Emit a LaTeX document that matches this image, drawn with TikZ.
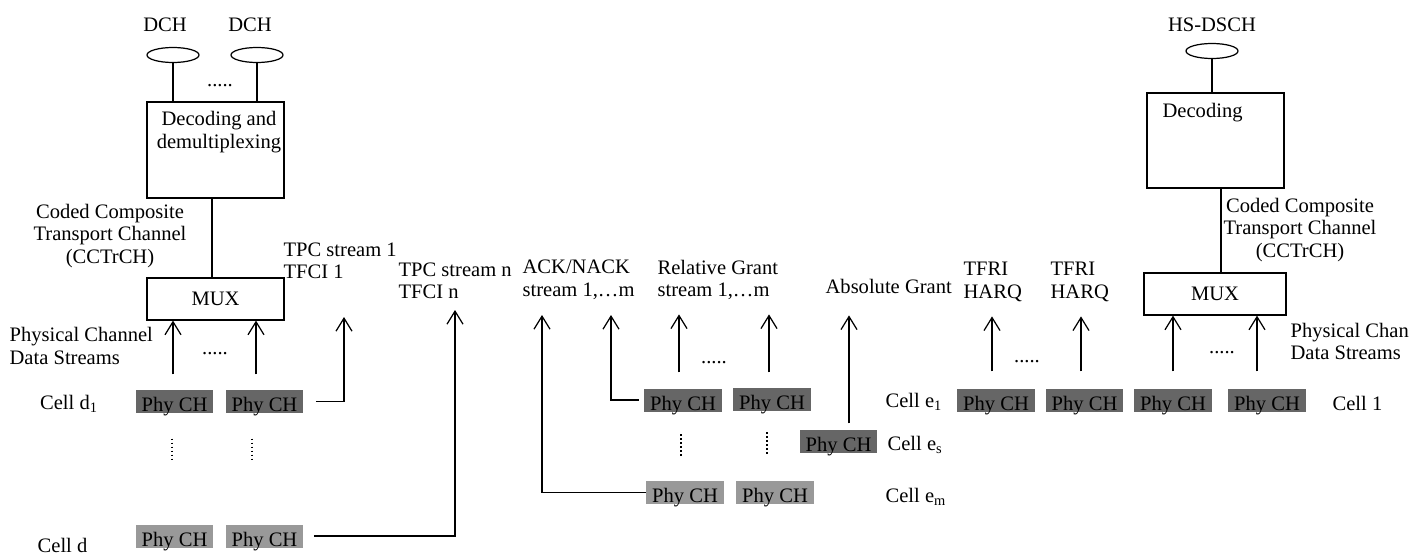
\documentclass[tikz,border=0pt]{standalone}
\usepackage{fontspec}
\setmainfont{Liberation Serif}
\usetikzlibrary{arrows.meta, positioning, shapes.geometric, calc}

\begin{document}
\begin{tikzpicture}[
    font=\fontsize{11.7}{12.8}\selectfont,
    line width=0.7pt,
    lbl/.style={inner sep=0pt, align=left},
    lblc/.style={inner sep=0pt, align=center},
    trch/.style={draw, ellipse, minimum width=1.04cm, minimum height=0.30cm, inner sep=0pt},
    blk/.style={draw, inner sep=0pt},
    phych/.style={fill=black!60, minimum width=1.55cm, minimum height=0.46cm, inner sep=0pt,
        text height=0.40cm, text depth=0pt},
    phychl/.style={phych, fill=black!40},
    arrow/.style={-{Straight Barb[length=0.26cm, width=0.32cm]}},
    vdots/.style={line width=0.045cm, dash pattern=on 0.03cm off 0.05cm}
]
\useasboundingbox (0,0) rectangle (28.2,-11.08);

% DCH branch (left)
\node[trch] (dch1) at (3.46,-1.10) {};
\node[trch] (dch2) at (5.14,-1.10) {};
\node[lblc, anchor=base] (dch1-lbl) at (3.30,-0.62) {DCH};
\node[lblc, anchor=base] (dch2-lbl) at (5.00,-0.62) {DCH};
\node[lblc, anchor=base] (dch-dots) at (4.40,-1.72) {.....};
\node[blk, minimum width=2.74cm, minimum height=1.92cm] (dec) at (4.31,-3.00) {};
\node[lblc] (dec-txt) at (4.38,-2.64) {Decoding and\\demultiplexing};
\node[blk, minimum width=2.74cm, minimum height=0.84cm] (mux) at (4.31,-5.98) {MUX};
\node[lblc] (cctrch) at (2.20,-4.72) {Coded Composite\\Transport Channel\\(CCTrCH)};
\node[lbl, anchor=west] (pcds) at (0.18,-6.92) {Physical Channel\\Data Streams};

\draw (dch1.south) -- (dch1.south |- dec.north);
\draw (dch2.south) -- (dch2.south |- dec.north);
\draw ([xshift=-0.07cm]dec.south) -- ([xshift=-0.07cm]dec.south |- mux.north);

% stream labels
\node[lbl, anchor=west] (tpc1) at (5.66,-5.22) {TPC stream 1\\TFCI 1};
\node[lbl, anchor=west] (tpcn) at (7.96,-5.62) {TPC stream n\\TFCI n};
\node[lbl, anchor=west] (ack) at (10.44,-5.60) {ACK/NACK\\stream 1,…m};
\node[lbl, anchor=west] (rg) at (13.14,-5.60) {Relative Grant\\stream 1,…m};
\node[lbl, anchor=west] (ag) at (16.50,-5.72) {Absolute Grant};
\node[lbl, anchor=west] (tfri1) at (19.26,-5.64) {TFRI\\HARQ};
\node[lbl, anchor=west] (tfri2) at (21.00,-5.64) {TFRI\\HARQ};

% physical channels, cells d
\node[phych] (d1a) at (3.49,-8.03) {Phy CH};
\node[phych] (d1b) at (5.29,-8.03) {Phy CH};
\node[phychl] (da) at (3.49,-10.72) {Phy CH};
\node[phychl] (db) at (5.29,-10.72) {Phy CH};
\node[lblc] (cell-d1) at (1.38,-8.08) {Cell d\textsubscript{1}};
\node[lblc] (cell-d) at (1.25,-10.90) {Cell d};
\draw[vdots] ([xshift=-0.05cm,yshift=-0.50cm]d1a.south) -- ([xshift=-0.05cm,yshift=-0.98cm]d1a.south);
\draw[vdots] ([xshift=-0.25cm,yshift=-0.50cm]d1b.south) -- ([xshift=-0.25cm,yshift=-0.98cm]d1b.south);
\node[lblc, anchor=base] (d-dots) at (4.30,-7.08) {.....};

% physical channels, cells e
\node[phych] (e1a) at (13.66,-8.00) {Phy CH};
\node[phych] (e1b) at (15.44,-7.98) {Phy CH};
\node[phych] (es) at (16.77,-8.83) {Phy CH};
\node[phychl] (ema) at (13.70,-9.85) {Phy CH};
\node[phychl] (emb) at (15.50,-9.85) {Phy CH};
\node[lbl, anchor=west] (cell-e1) at (17.70,-8.04) {Cell e\textsubscript{1}};
\node[lbl, anchor=west] (cell-es) at (17.74,-8.90) {Cell e\textsubscript{s}};
\node[lbl, anchor=west] (cell-em) at (17.70,-9.94) {Cell e\textsubscript{m}};
\draw[vdots] ([xshift=-0.04cm,yshift=-0.44cm]e1a.south) -- ([xshift=-0.04cm,yshift=-0.92cm]e1a.south);
\draw[vdots] ([xshift=-0.10cm,yshift=-0.42cm]e1b.south) -- ([xshift=-0.10cm,yshift=-0.90cm]e1b.south);
\node[lblc, anchor=base] (e-dots) at (14.28,-7.26) {.....};

% physical channels, cell 1
\node[phych] (r1) at (19.92,-8.00) {Phy CH};
\node[phych] (r2) at (21.69,-8.00) {Phy CH};
\node[phych] (r3) at (23.46,-8.00) {Phy CH};
\node[phych] (r4) at (25.34,-8.00) {Phy CH};
\node[lbl, anchor=west] (cell-1) at (26.64,-8.06) {Cell 1};
\node[lblc, anchor=base] (r-dots1) at (20.54,-7.24) {.....};
\node[lblc, anchor=base] (r-dots2) at (24.44,-7.06) {.....};

% HS-DSCH branch (right)
\node[lblc, anchor=base] (hsdsch-lbl) at (24.24,-0.62) {HS-DSCH};
\node[trch] (hsdsch) at (24.24,-1.02) {};
\node[blk, minimum width=2.74cm, minimum height=1.90cm] (dec2) at (24.31,-2.81) {};
\node[lbl, anchor=base west] (dec2-txt) at (23.24,-2.34) {Decoding};
\node[blk, minimum width=2.84cm, minimum height=0.84cm] (mux2) at (24.30,-5.88) {MUX};
\node[lblc] (cctrch2) at (26.00,-4.60) {Coded Composite\\Transport Channel\\(CCTrCH)};
\node[lbl, anchor=west] (pcds2) at (25.80,-6.83) {Physical Chan\\Data Streams};

\draw (hsdsch.south) -- (hsdsch.south |- dec2.north);
\draw ([xshift=0.11cm]dec2.south) -- ([xshift=0.11cm]dec2.south |- mux2.north);

% arrow tips in free space
\coordinate (tfci1-tip) at (6.88,-6.34);
\coordinate (tpcn-tip) at (9.10,-6.20);
\coordinate (ack-tip1) at (10.84,-6.30);
\coordinate (ack-tip2) at (12.22,-6.30);

% streams into MUX
\draw[arrow] ([xshift=-0.03cm,yshift=0.30cm]d1a.north) -- ([xshift=-0.03cm]d1a.north |- mux.south);
\draw[arrow] ([xshift=-0.17cm,yshift=0.30cm]d1b.north) -- ([xshift=-0.17cm]d1b.north |- mux.south);
\draw[arrow] ([yshift=0.33cm]r3.north) -- (r3.north |- mux2.south);
\draw[arrow] ([xshift=-0.20cm,yshift=0.33cm]r4.north) -- ([xshift=-0.20cm]r4.north |- mux2.south);

% other streams
\draw[arrow] ([xshift=0.24cm]d1b.east) -| (tfci1-tip);
\draw[arrow] ([xshift=0.20cm]db.east) -| (tpcn-tip);
\draw[arrow] (ema.west) -| (ack-tip1);
\draw[arrow] ([xshift=-0.10cm]e1a.west) -| (ack-tip2);
\draw[arrow] ([xshift=-0.08cm,yshift=0.31cm]e1a.north) -- ++(0,1.16);
\draw[arrow] ([xshift=-0.06cm,yshift=0.29cm]e1b.north) -- ++(0,1.16);
\draw[arrow] ([xshift=0.21cm,yshift=0.12cm]es.north) -- ++(0,2.16);
\draw[arrow] ([xshift=-0.08cm,yshift=0.33cm]r1.north) -- ++(0,1.10);
\draw[arrow] ([xshift=-0.07cm,yshift=0.33cm]r2.north) -- ++(0,1.10);
\end{tikzpicture}
\end{document}
